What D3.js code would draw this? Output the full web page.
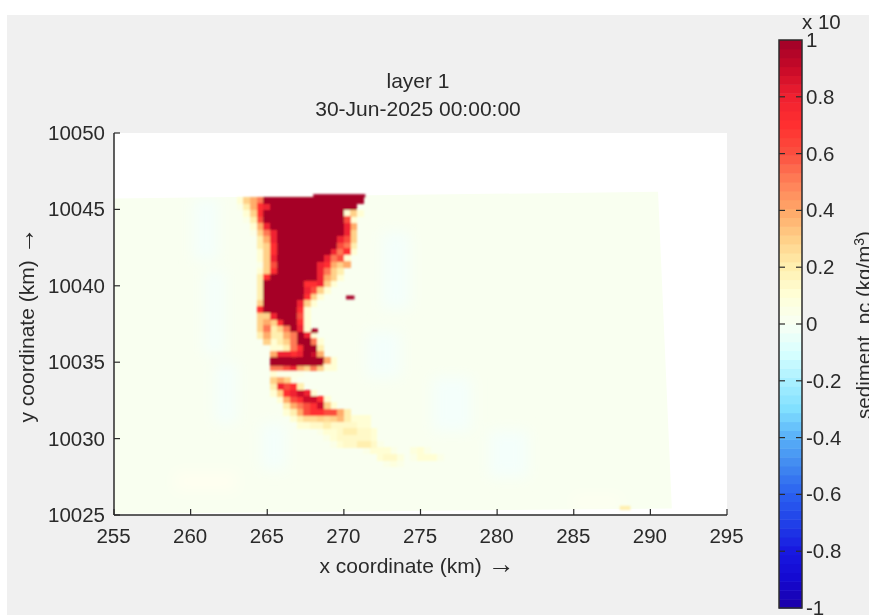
<!DOCTYPE html>
<html><head><meta charset="utf-8">
<script src="https://cdn.jsdelivr.net/npm/d3@7"></script>
<style>html,body{margin:0;padding:0;background:#fff;overflow:hidden}svg{display:block}
text{font-family:"Liberation Sans",Arial,sans-serif;fill:#2a2a2a}</style></head>
<body><svg id="c" width="869" height="615"></svg>
<script>
const xTicks=[255,260,265,270,275,280,285,290,295];
const yTicks=[10025,10030,10035,10040,10045,10050];
const cbTicks=[-1,-0.8,-0.6,-0.4,-0.2,0,0.2,0.4,0.6,0.8,1];
const cbStops=[-1,-0.9,-0.8,-0.7,-0.6,-0.5,-0.4,-0.3,-0.2,-0.1,0,0.1,0.2,0.3,0.4,0.5,0.6,0.7,0.8,0.9,1];
const cbColors=["#1c00a8","#1408d0","#1818e0","#2040e8","#2a60f0","#4088f0","#58b0f8","#80dfff","#a8f0ff","#d8ffff","#f8fff4","#ffffd8","#fff0b0","#ffd088","#ffa868","#ff8058","#fb5040","#ff3030","#f02030","#c80a28","#a00028"];
const domainCorners=[[255,10045.72],[290.5,10046.15],[291.4,10025.42],[255,10025.08]];
// plume grid: each entry is [first column, values in tenths of the colour range]
const gridX0=263.0, gridDX=0.435, gridY0=10045.81, gridDY=0.42;
const plumeRows=[
[0,[1,3,4,5,10,10,10,10,10,10,10,10,10,10,10,10,10,10,10]],
[0,[0.5,2,4,7,8,10,10,10,10,10,10,10,10,10,10,10,10,10]],
[1,[1,3,7,10,10,10,10,10,10,10,10,10,10,10,10,1,3,1]],
[1,[0.5,2,6,10,10,10,10,10,10,10,10,10,10,10,10,6,1]],
[2,[1,4,8,10,10,10,10,10,10,10,10,10,10,10,8,4]],
[2,[0.5,3,5,8,10,10,10,10,10,10,10,10,10,10,8,3]],
[3,[2,4,8,10,10,10,10,10,10,10,10,10,8,6,3]],
[3,[2,3,7,10,10,10,10,10,10,10,10,10,6,5,2]],
[3,[1,3,7,10,10,10,10,10,10,10,10,8,5,7,1]],
[3,[1,3,8,10,10,10,10,10,10,10,8,5,6,1]],
[3,[0.5,3,6,10,10,10,10,10,10,8,7,4,3,4]],
[3,[1,3,7,10,10,10,10,10,10,8,5,3,2]],
[3,[2,7,10,10,10,10,10,10,10,8,4,3,1]],
[3,[2,10,10,10,10,10,10,7,7,8,3,1]],
[3,[2,10,10,10,10,10,10,8,6,3,1]],
[3,[2,10,10,10,10,10,10,7,3,1]],
[3,[3,10,10,10,10,10,8,3,1]],
[3,[7,10,10,10,10,10,7,1]],
[3,[3,3,8,10,10,10,6,1]],
[3,[3,4,3,7,10,10,7,1]],
[3,[3,5,2,3,5,10,8,1]],
[3,[2,4,2,2,4,5,10,8,1]],
[4,[3,1,2,3,5,10,10,5,1]],
[5,[1,1,2,5,7,10,10,2]],
[5,[4,8,8,7,8,10,9,4]],
[5,[10,10,10,10,10,10,10,10,4,1]],
[5,[5,5,6,8,4,3,5,3,1,1]],
[5,[1,0.5,0.5,0.5,0.5]],
[5,[3,4,3,0.5]],
[5,[2,8,6,7,2]],
[5,[1,3,7,8,9,8,1]],
[6,[1,4,6,7,9,9,7,1]],
[7,[2,4,5,6,7,9,3,1]],
[7,[1,2,4,6,7,7,6,6,4,2]],
[8,[1,2,2.5,2.5,3,2.5,3,3.5,2,1,1,1]],
[9,[1,1,1.5,1.5,2,1.5,1.5,1.5,1.5,1.2,1]],
[12,[0.5,1,1,1.5,2,2,1.5,1.5,1]],
[13,[0.5,1,1.5,1.5,1.5,1.5,1.5,1]],
[14,[0.5,1,1.5,1.5,2,2,1.5,0.5]],
[18,[0.3,0.5,1,1,1,0.5,0.3,0,0.8,1,0.5]],
[21,[1,1.5,1.5,0.8,0,0.5,1.2,1,1,0.5]],
[22,[0.5,0.8,0.5]]
];
// small isolated patches: [x km, y km, width km, height km, tenths]
const spots=[
[270.14,10039.36,0.55,0.25,11],
[267.85,10037.2,0.45,0.3,11],
[265.18,10034.88,3.45,0.13,11],
[268.0,10046.0,3.4,0.22,11],
[288.0,10025.6,0.7,0.28,2]
];
// faint under/over-shoot streaks: [x km, top km, width km, height km, tenths]
const streaks=[
[260.2,10045.7,1.6,4.0,-0.5],[260.9,10041.0,1.3,5.5,-0.5],[261.6,10035,1.4,4,-0.4],
[264.6,10031,1.6,3,-0.3],[272.5,10043.5,1.8,5,-0.3],[271.5,10037,2.2,3,-0.4],
[275.8,10034,2.5,3.5,-0.3],[279.5,10030.5,2.5,3,-0.3],[259,10027.8,4,1.2,0.4],[285,10026.2,3,0.7,0.3]
];

const W=869,H=615;
const svg=d3.select("#c");
const x=d3.scaleLinear().domain([255,295]).range([114,727]);
const y=d3.scaleLinear().domain([10025,10050]).range([515,133]);
const cb=d3.scaleLinear().domain([-1,1]).range([608,40]);
const colorRaw=d3.scaleLinear().domain(cbStops).range(cbColors).interpolate(d3.interpolateRgb).clamp(true);
const nBands=64;
const color=v=>{const t=Math.min(nBands-1,Math.max(0,Math.floor((v+1)/2*nBands)));return colorRaw(-1+2*(t+0.5)/nBands);};

const defs=svg.append("defs");
const mkBlur=(id,s)=>defs.append("filter").attr("id",id).attr("filterUnits","userSpaceOnUse").attr("x",0).attr("y",0).attr("width",W).attr("height",H)
  .append("feGaussianBlur").attr("stdDeviation",s);
mkBlur("soft",0.9);mkBlur("txt",0.35);mkBlur("wide",7);
const polyPts=domainCorners.map(d=>[x(d[0]),y(d[1])].join(",")).join(" ");
defs.append("clipPath").attr("id","dom").append("polygon").attr("points",polyPts);

svg.append("rect").attr("width",W).attr("height",H).attr("fill","#fff");
svg.append("rect").attr("x",7).attr("y",15).attr("width",W-7).attr("height",H-15).attr("fill","#f0f0f0");
svg.append("rect").attr("x",x(255)).attr("y",y(10050)).attr("width",x(295)-x(255)).attr("height",y(10025)-y(10050)).attr("fill","#fff");

svg.append("polygon").attr("points",polyPts).attr("fill",color(0));
svg.append("g").attr("clip-path","url(#dom)").append("g").attr("filter","url(#wide)")
  .selectAll("rect").data(streaks).join("rect")
  .attr("x",d=>x(d[0])).attr("y",d=>y(d[1])).attr("width",d=>x(d[0]+d[2])-x(d[0])).attr("height",d=>y(d[1]-d[3])-y(d[1]))
  .attr("fill",d=>d[4]<0?"#f4fffb":"#fffff0");

const field=svg.append("g").attr("filter","url(#soft)");
const cells=[];
plumeRows.forEach((r,i)=>r[1].forEach((v,j)=>{if(v>0)cells.push({i,c:r[0]+j,v:v/10});}));
field.selectAll("rect.c").data(cells.sort((a,b)=>a.v-b.v)).join("rect").attr("class","c")
  .attr("shape-rendering","crispEdges")
  .attr("x",d=>x(gridX0+d.c*gridDX)).attr("y",d=>y(gridY0-d.i*gridDY))
  .attr("width",x(gridDX)-x(0)+0.6).attr("height",y(0)-y(gridDY)+0.6)
  .attr("fill",d=>color(d.v));
field.selectAll("rect.s").data(spots).join("rect").attr("class","s")
  .attr("x",d=>x(d[0])).attr("y",d=>y(d[1])).attr("width",d=>x(d[0]+d[2])-x(d[0])).attr("height",d=>y(d[1]-d[3])-y(d[1]))
  .attr("fill",d=>color(d[4]/10));

const ink="#2b2b2b", fs=20.5, ls=21;
const ax=svg.append("g");
ax.append("line").attr("x1",x(255)).attr("x2",x(295)).attr("y1",y(10025)).attr("y2",y(10025)).attr("stroke",ink).attr("stroke-width",1.5);
ax.append("line").attr("x1",x(255)).attr("x2",x(255)).attr("y1",y(10025)).attr("y2",y(10050)).attr("stroke",ink).attr("stroke-width",1.5);
ax.selectAll("line.xt").data(xTicks).join("line").attr("class","xt").attr("x1",d=>x(d)).attr("x2",d=>x(d)).attr("y1",515).attr("y2",509).attr("stroke",ink).attr("stroke-width",1.2);
ax.selectAll("line.yt").data(yTicks).join("line").attr("class","yt").attr("y1",d=>y(d)).attr("y2",d=>y(d)).attr("x1",114).attr("x2",120).attr("stroke",ink).attr("stroke-width",1.2);

const tg=svg.append("g").attr("filter","url(#txt)");
tg.selectAll("text.xl").data(xTicks).join("text").attr("class","xl").attr("x",d=>x(d)-0.5).attr("y",543).attr("text-anchor","middle").attr("font-size",fs).text(d=>d);
tg.selectAll("text.yl").data(yTicks).join("text").attr("class","yl").attr("x",105).attr("y",d=>y(d)+7).attr("text-anchor","end").attr("font-size",fs).text(d=>d);
tg.append("text").attr("x",418).attr("y",88).attr("text-anchor","middle").attr("font-size",ls).text("layer 1");
tg.append("text").attr("x",418).attr("y",116).attr("text-anchor","middle").attr("font-size",ls).text("30-Jun-2025 00:00:00");
const xl=tg.append("text").attr("x",417).attr("y",573).attr("text-anchor","middle").attr("font-size",ls).text("x coordinate (km) ");
xl.append("tspan").attr("font-size",27).text("\u2192");
const yl=tg.append("text").attr("transform","translate(34,325) rotate(-90)").attr("text-anchor","middle").attr("font-size",ls).text("y coordinate (km) ");
yl.append("tspan").attr("font-size",27).text("\u2192");

// colour bar
const bands=d3.range(nBands).map(i=>-1+2*i/nBands);
svg.append("g").selectAll("rect").data(bands).join("rect")
  .attr("x",779).attr("width",23).attr("y",d=>cb(d+2/nBands)).attr("height",cb(0)-cb(2/nBands)+0.5)
  .attr("fill",d=>color(d+1/nBands));
svg.append("rect").attr("x",779).attr("y",40).attr("width",23).attr("height",568).attr("fill","none").attr("stroke",ink).attr("stroke-width",1.5);
const mid=cbTicks.filter(d=>d>-1&&d<1);
svg.selectAll("line.cl").data(mid).join("line").attr("class","cl").attr("x1",779).attr("x2",785).attr("y1",d=>cb(d)).attr("y2",d=>cb(d)).attr("stroke",ink).attr("stroke-width",1.2);
svg.selectAll("line.cr").data(mid).join("line").attr("class","cr").attr("x1",796).attr("x2",802).attr("y1",d=>cb(d)).attr("y2",d=>cb(d)).attr("stroke",ink).attr("stroke-width",1.2);
tg.selectAll("text.cbl").data(cbTicks).join("text").attr("class","cbl").attr("x",806).attr("y",d=>cb(d)+7).attr("font-size",fs)
  .text(d=>d3.format("")(d).replace("\u2212","-"));
tg.append("text").attr("x",802).attr("y",29).attr("font-size",fs).text("x 10");
const cbl=tg.append("text").attr("transform","translate(871,325) rotate(-90)").attr("text-anchor","middle").attr("font-size",fs);
cbl.append("tspan").text("sediment_pc (kg/m");
cbl.append("tspan").attr("dy",-7).attr("font-size",14).text("3");
cbl.append("tspan").attr("dy",7).text(")");
// figure top margin stays white and clips the exponent label
svg.append("rect").attr("x",0).attr("y",0).attr("width",W).attr("height",15).attr("fill","#fff");
</script></body></html>
